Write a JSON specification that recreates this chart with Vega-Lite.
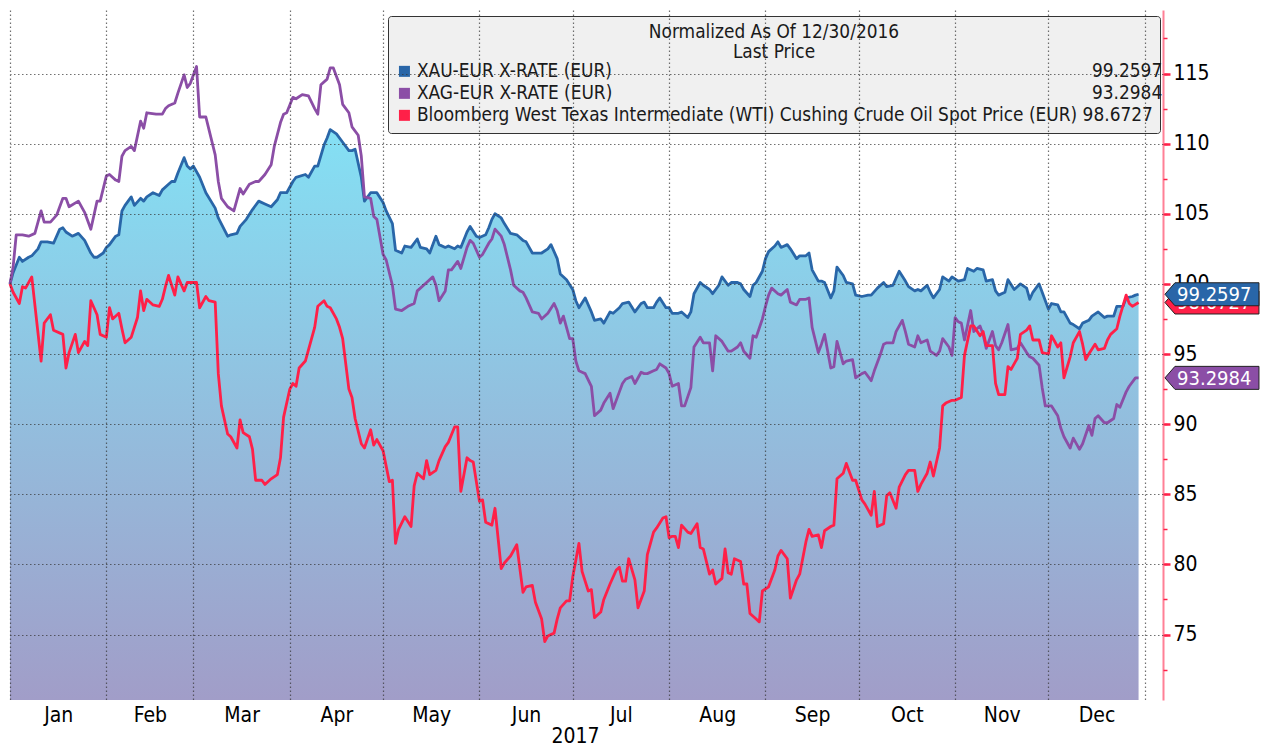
{
  "$schema": "https://vega.github.io/schema/vega-lite/v6.json",
  "width": 1153,
  "height": 690,
  "autosize": {"type": "none"},
  "padding": {"left": 10, "top": 10, "right": 106, "bottom": 46},
  "background": "#ffffff",
  "config": {
    "view": {"stroke": null},
    "font": "DejaVu Sans Condensed",
    "axis": {"labelFont": "DejaVu Sans Condensed", "titleFont": "DejaVu Sans Condensed"},
    "legend": {"labelFont": "DejaVu Sans Condensed", "titleFont": "DejaVu Sans Condensed"}
  },
  "datasets": {
    "prices": [
      {"series":"XAU","date":"2017-01-01","value":100},{"series":"XAU","date":"2017-01-02","value":100.8},{"series":"XAU","date":"2017-01-04","value":101.9},{"series":"XAU","date":"2017-01-05","value":101.6},{"series":"XAU","date":"2017-01-07","value":101.9},{"series":"XAU","date":"2017-01-08","value":102.0},{"series":"XAU","date":"2017-01-10","value":102.5},{"series":"XAU","date":"2017-01-11","value":103.0},{"series":"XAU","date":"2017-01-13","value":103.0},{"series":"XAU","date":"2017-01-15","value":102.9},{"series":"XAU","date":"2017-01-17","value":103.9},{"series":"XAU","date":"2017-01-18","value":104.0},{"series":"XAU","date":"2017-01-19","value":103.7},{"series":"XAU","date":"2017-01-21","value":103.4},{"series":"XAU","date":"2017-01-23","value":103.6},{"series":"XAU","date":"2017-01-25","value":103.1},{"series":"XAU","date":"2017-01-27","value":102.2},{"series":"XAU","date":"2017-01-28","value":101.9},{"series":"XAU","date":"2017-01-29","value":101.9},{"series":"XAU","date":"2017-01-31","value":102.2},
      {"series":"XAU","date":"2017-02-01","value":102.6},{"series":"XAU","date":"2017-02-02","value":102.8},{"series":"XAU","date":"2017-02-04","value":103.4},{"series":"XAU","date":"2017-02-05","value":103.5},{"series":"XAU","date":"2017-02-06","value":105.2},{"series":"XAU","date":"2017-02-07","value":105.6},{"series":"XAU","date":"2017-02-09","value":106.2},{"series":"XAU","date":"2017-02-10","value":105.6},{"series":"XAU","date":"2017-02-12","value":106.1},{"series":"XAU","date":"2017-02-13","value":105.9},{"series":"XAU","date":"2017-02-14","value":106.2},{"series":"XAU","date":"2017-02-16","value":106.5},{"series":"XAU","date":"2017-02-18","value":106.3},{"series":"XAU","date":"2017-02-19","value":106.7},{"series":"XAU","date":"2017-02-21","value":107.1},{"series":"XAU","date":"2017-02-22","value":107.3},{"series":"XAU","date":"2017-02-23","value":107.3},{"series":"XAU","date":"2017-02-24","value":107.9},{"series":"XAU","date":"2017-02-26","value":109.0},{"series":"XAU","date":"2017-02-27","value":108.4},{"series":"XAU","date":"2017-02-28","value":108.2},
      {"series":"XAU","date":"2017-03-01","value":108.4},{"series":"XAU","date":"2017-03-03","value":107.6},{"series":"XAU","date":"2017-03-05","value":106.5},{"series":"XAU","date":"2017-03-08","value":105.4},{"series":"XAU","date":"2017-03-09","value":104.7},{"series":"XAU","date":"2017-03-12","value":103.4},{"series":"XAU","date":"2017-03-13","value":103.5},{"series":"XAU","date":"2017-03-15","value":103.6},{"series":"XAU","date":"2017-03-16","value":104.1},{"series":"XAU","date":"2017-03-18","value":104.6},{"series":"XAU","date":"2017-03-20","value":105.3},{"series":"XAU","date":"2017-03-22","value":105.9},{"series":"XAU","date":"2017-03-24","value":105.7},{"series":"XAU","date":"2017-03-26","value":105.5},{"series":"XAU","date":"2017-03-28","value":106.0},{"series":"XAU","date":"2017-03-29","value":106.5},{"series":"XAU","date":"2017-03-31","value":106.5},
      {"series":"XAU","date":"2017-04-02","value":107.3},{"series":"XAU","date":"2017-04-03","value":107.6},{"series":"XAU","date":"2017-04-06","value":107.8},{"series":"XAU","date":"2017-04-07","value":107.6},{"series":"XAU","date":"2017-04-09","value":108.4},{"series":"XAU","date":"2017-04-10","value":108.4},{"series":"XAU","date":"2017-04-12","value":109.9},{"series":"XAU","date":"2017-04-13","value":110.4},{"series":"XAU","date":"2017-04-14","value":111.0},{"series":"XAU","date":"2017-04-16","value":110.7},{"series":"XAU","date":"2017-04-18","value":110.1},{"series":"XAU","date":"2017-04-20","value":109.5},{"series":"XAU","date":"2017-04-21","value":109.5},{"series":"XAU","date":"2017-04-22","value":109.6},{"series":"XAU","date":"2017-04-24","value":107.6},{"series":"XAU","date":"2017-04-25","value":105.9},{"series":"XAU","date":"2017-04-27","value":106.5},{"series":"XAU","date":"2017-04-29","value":106.5},
      {"series":"XAU","date":"2017-05-01","value":105.8},{"series":"XAU","date":"2017-05-02","value":105.2},{"series":"XAU","date":"2017-05-04","value":104.3},{"series":"XAU","date":"2017-05-05","value":102.4},{"series":"XAU","date":"2017-05-07","value":102.2},{"series":"XAU","date":"2017-05-08","value":102.7},{"series":"XAU","date":"2017-05-10","value":102.6},{"series":"XAU","date":"2017-05-12","value":103.2},{"series":"XAU","date":"2017-05-13","value":102.6},{"series":"XAU","date":"2017-05-15","value":102.5},{"series":"XAU","date":"2017-05-16","value":102.2},{"series":"XAU","date":"2017-05-18","value":103.4},{"series":"XAU","date":"2017-05-19","value":102.8},{"series":"XAU","date":"2017-05-21","value":102.6},{"series":"XAU","date":"2017-05-22","value":102.7},{"series":"XAU","date":"2017-05-24","value":102.5},{"series":"XAU","date":"2017-05-25","value":102.7},{"series":"XAU","date":"2017-05-26","value":102.6},{"series":"XAU","date":"2017-05-28","value":103.7},{"series":"XAU","date":"2017-05-29","value":104.1},{"series":"XAU","date":"2017-05-31","value":103.4},
      {"series":"XAU","date":"2017-06-01","value":103.3},{"series":"XAU","date":"2017-06-03","value":103.5},{"series":"XAU","date":"2017-06-04","value":104.0},{"series":"XAU","date":"2017-06-05","value":104.6},{"series":"XAU","date":"2017-06-06","value":105.0},{"series":"XAU","date":"2017-06-08","value":104.7},{"series":"XAU","date":"2017-06-09","value":104.3},{"series":"XAU","date":"2017-06-11","value":103.6},{"series":"XAU","date":"2017-06-13","value":103.5},{"series":"XAU","date":"2017-06-15","value":103.1},{"series":"XAU","date":"2017-06-16","value":103.0},{"series":"XAU","date":"2017-06-18","value":102.2},{"series":"XAU","date":"2017-06-20","value":102.2},{"series":"XAU","date":"2017-06-21","value":102.2},{"series":"XAU","date":"2017-06-23","value":102.5},{"series":"XAU","date":"2017-06-24","value":102.8},{"series":"XAU","date":"2017-06-26","value":101.8},{"series":"XAU","date":"2017-06-27","value":100.7},{"series":"XAU","date":"2017-06-29","value":100.3},
      {"series":"XAU","date":"2017-07-01","value":99.6},{"series":"XAU","date":"2017-07-02","value":98.8},{"series":"XAU","date":"2017-07-03","value":98.3},{"series":"XAU","date":"2017-07-05","value":99.0},{"series":"XAU","date":"2017-07-07","value":98.0},{"series":"XAU","date":"2017-07-08","value":97.4},{"series":"XAU","date":"2017-07-10","value":97.5},{"series":"XAU","date":"2017-07-11","value":97.2},{"series":"XAU","date":"2017-07-13","value":98.0},{"series":"XAU","date":"2017-07-14","value":97.9},{"series":"XAU","date":"2017-07-16","value":98.3},{"series":"XAU","date":"2017-07-17","value":98.6},{"series":"XAU","date":"2017-07-19","value":98.7},{"series":"XAU","date":"2017-07-21","value":98.0},{"series":"XAU","date":"2017-07-23","value":98.6},{"series":"XAU","date":"2017-07-24","value":98.7},{"series":"XAU","date":"2017-07-25","value":98.3},{"series":"XAU","date":"2017-07-27","value":98.3},{"series":"XAU","date":"2017-07-28","value":98.7},{"series":"XAU","date":"2017-07-29","value":99.0},{"series":"XAU","date":"2017-07-31","value":98.3},
      {"series":"XAU","date":"2017-08-01","value":98.3},{"series":"XAU","date":"2017-08-02","value":97.9},{"series":"XAU","date":"2017-08-04","value":97.9},{"series":"XAU","date":"2017-08-05","value":98.0},{"series":"XAU","date":"2017-08-07","value":97.6},{"series":"XAU","date":"2017-08-08","value":98.0},{"series":"XAU","date":"2017-08-09","value":99.3},{"series":"XAU","date":"2017-08-11","value":100.1},{"series":"XAU","date":"2017-08-12","value":99.9},{"series":"XAU","date":"2017-08-14","value":99.6},{"series":"XAU","date":"2017-08-15","value":99.3},{"series":"XAU","date":"2017-08-17","value":99.9},{"series":"XAU","date":"2017-08-18","value":100.5},{"series":"XAU","date":"2017-08-20","value":99.9},{"series":"XAU","date":"2017-08-21","value":100.1},{"series":"XAU","date":"2017-08-23","value":100.1},{"series":"XAU","date":"2017-08-24","value":100.0},{"series":"XAU","date":"2017-08-25","value":99.6},{"series":"XAU","date":"2017-08-27","value":99.1},{"series":"XAU","date":"2017-08-28","value":99.9},{"series":"XAU","date":"2017-08-29","value":100.1},{"series":"XAU","date":"2017-08-31","value":100.9},
      {"series":"XAU","date":"2017-09-01","value":101.8},{"series":"XAU","date":"2017-09-02","value":102.3},{"series":"XAU","date":"2017-09-04","value":102.7},{"series":"XAU","date":"2017-09-05","value":103.0},{"series":"XAU","date":"2017-09-06","value":102.6},{"series":"XAU","date":"2017-09-08","value":102.8},{"series":"XAU","date":"2017-09-09","value":102.5},{"series":"XAU","date":"2017-09-11","value":101.8},{"series":"XAU","date":"2017-09-12","value":102.0},{"series":"XAU","date":"2017-09-14","value":102.0},{"series":"XAU","date":"2017-09-15","value":102.2},{"series":"XAU","date":"2017-09-16","value":101.0},{"series":"XAU","date":"2017-09-18","value":100.2},{"series":"XAU","date":"2017-09-19","value":100.2},{"series":"XAU","date":"2017-09-20","value":100.1},{"series":"XAU","date":"2017-09-22","value":99.0},{"series":"XAU","date":"2017-09-23","value":99.5},{"series":"XAU","date":"2017-09-24","value":101.2},{"series":"XAU","date":"2017-09-26","value":100.6},{"series":"XAU","date":"2017-09-27","value":100.1},{"series":"XAU","date":"2017-09-29","value":100.0},{"series":"XAU","date":"2017-09-30","value":99.2},
      {"series":"XAU","date":"2017-10-02","value":99.1},{"series":"XAU","date":"2017-10-04","value":99.2},{"series":"XAU","date":"2017-10-05","value":99.2},{"series":"XAU","date":"2017-10-07","value":99.7},{"series":"XAU","date":"2017-10-09","value":100.1},{"series":"XAU","date":"2017-10-10","value":99.8},{"series":"XAU","date":"2017-10-12","value":99.9},{"series":"XAU","date":"2017-10-14","value":100.9},{"series":"XAU","date":"2017-10-16","value":100.2},{"series":"XAU","date":"2017-10-17","value":99.8},{"series":"XAU","date":"2017-10-19","value":99.5},{"series":"XAU","date":"2017-10-20","value":99.6},{"series":"XAU","date":"2017-10-21","value":99.5},{"series":"XAU","date":"2017-10-23","value":99.9},{"series":"XAU","date":"2017-10-24","value":99.4},{"series":"XAU","date":"2017-10-25","value":99.0},{"series":"XAU","date":"2017-10-27","value":99.6},{"series":"XAU","date":"2017-10-28","value":100.5},{"series":"XAU","date":"2017-10-30","value":100.2},{"series":"XAU","date":"2017-10-31","value":100.5},
      {"series":"XAU","date":"2017-11-02","value":100.2},{"series":"XAU","date":"2017-11-04","value":100.3},{"series":"XAU","date":"2017-11-05","value":101.1},{"series":"XAU","date":"2017-11-07","value":100.9},{"series":"XAU","date":"2017-11-08","value":101.1},{"series":"XAU","date":"2017-11-10","value":101.0},{"series":"XAU","date":"2017-11-11","value":100.2},{"series":"XAU","date":"2017-11-13","value":100.3},{"series":"XAU","date":"2017-11-14","value":99.5},{"series":"XAU","date":"2017-11-15","value":99.2},{"series":"XAU","date":"2017-11-17","value":99.4},{"series":"XAU","date":"2017-11-18","value":100.3},{"series":"XAU","date":"2017-11-20","value":99.6},{"series":"XAU","date":"2017-11-21","value":99.8},{"series":"XAU","date":"2017-11-22","value":100.0},{"series":"XAU","date":"2017-11-24","value":99.7},{"series":"XAU","date":"2017-11-25","value":98.9},{"series":"XAU","date":"2017-11-26","value":99.4},{"series":"XAU","date":"2017-11-28","value":100.0},{"series":"XAU","date":"2017-11-29","value":99.4},
      {"series":"XAU","date":"2017-12-01","value":98.2},{"series":"XAU","date":"2017-12-02","value":98.6},{"series":"XAU","date":"2017-12-04","value":98.5},{"series":"XAU","date":"2017-12-05","value":98.0},{"series":"XAU","date":"2017-12-06","value":98.0},{"series":"XAU","date":"2017-12-08","value":97.2},{"series":"XAU","date":"2017-12-09","value":97.1},{"series":"XAU","date":"2017-12-11","value":96.8},{"series":"XAU","date":"2017-12-12","value":97.2},{"series":"XAU","date":"2017-12-14","value":97.4},{"series":"XAU","date":"2017-12-15","value":97.7},{"series":"XAU","date":"2017-12-17","value":98.0},{"series":"XAU","date":"2017-12-19","value":97.6},{"series":"XAU","date":"2017-12-20","value":97.7},{"series":"XAU","date":"2017-12-22","value":97.7},{"series":"XAU","date":"2017-12-23","value":98.4},{"series":"XAU","date":"2017-12-25","value":98.4},{"series":"XAU","date":"2017-12-26","value":99.0},{"series":"XAU","date":"2017-12-28","value":99.1},{"series":"XAU","date":"2017-12-29","value":99.2},{"series":"XAU","date":"2017-12-30","value":99.2597},

      {"series":"XAG","date":"2017-01-01","value":100},{"series":"XAG","date":"2017-01-02","value":101.2},{"series":"XAG","date":"2017-01-03","value":103.5},{"series":"XAG","date":"2017-01-05","value":103.5},{"series":"XAG","date":"2017-01-07","value":103.4},{"series":"XAG","date":"2017-01-09","value":103.6},{"series":"XAG","date":"2017-01-11","value":105.2},{"series":"XAG","date":"2017-01-12","value":104.4},{"series":"XAG","date":"2017-01-14","value":104.4},{"series":"XAG","date":"2017-01-16","value":104.9},{"series":"XAG","date":"2017-01-18","value":106.1},{"series":"XAG","date":"2017-01-19","value":106.1},{"series":"XAG","date":"2017-01-20","value":105.5},{"series":"XAG","date":"2017-01-23","value":105.9},{"series":"XAG","date":"2017-01-25","value":105.1},{"series":"XAG","date":"2017-01-26","value":104.5},{"series":"XAG","date":"2017-01-27","value":103.9},{"series":"XAG","date":"2017-01-29","value":105.9},{"series":"XAG","date":"2017-01-30","value":105.9},
      {"series":"XAG","date":"2017-02-01","value":107.7},{"series":"XAG","date":"2017-02-02","value":107.8},{"series":"XAG","date":"2017-02-04","value":107.4},{"series":"XAG","date":"2017-02-05","value":107.3},{"series":"XAG","date":"2017-02-06","value":109.1},{"series":"XAG","date":"2017-02-07","value":109.5},{"series":"XAG","date":"2017-02-09","value":109.8},{"series":"XAG","date":"2017-02-10","value":109.5},{"series":"XAG","date":"2017-02-12","value":111.6},{"series":"XAG","date":"2017-02-13","value":111.1},{"series":"XAG","date":"2017-02-14","value":112.2},{"series":"XAG","date":"2017-02-17","value":112.1},{"series":"XAG","date":"2017-02-19","value":112.1},{"series":"XAG","date":"2017-02-20","value":112.5},{"series":"XAG","date":"2017-02-21","value":112.7},{"series":"XAG","date":"2017-02-23","value":112.9},{"series":"XAG","date":"2017-02-24","value":113.6},{"series":"XAG","date":"2017-02-26","value":114.9},{"series":"XAG","date":"2017-02-27","value":114.0},{"series":"XAG","date":"2017-02-28","value":114.3},
      {"series":"XAG","date":"2017-03-02","value":115.5},{"series":"XAG","date":"2017-03-03","value":111.9},{"series":"XAG","date":"2017-03-05","value":111.9},{"series":"XAG","date":"2017-03-06","value":111.0},{"series":"XAG","date":"2017-03-08","value":109.2},{"series":"XAG","date":"2017-03-09","value":107.3},{"series":"XAG","date":"2017-03-10","value":106.1},{"series":"XAG","date":"2017-03-12","value":105.5},{"series":"XAG","date":"2017-03-14","value":105.2},{"series":"XAG","date":"2017-03-16","value":106.8},{"series":"XAG","date":"2017-03-17","value":106.4},{"series":"XAG","date":"2017-03-19","value":107.1},{"series":"XAG","date":"2017-03-21","value":107.3},{"series":"XAG","date":"2017-03-22","value":107.3},{"series":"XAG","date":"2017-03-24","value":107.8},{"series":"XAG","date":"2017-03-26","value":108.5},{"series":"XAG","date":"2017-03-27","value":109.8},{"series":"XAG","date":"2017-03-29","value":111.5},{"series":"XAG","date":"2017-03-30","value":112.1},{"series":"XAG","date":"2017-03-31","value":112.2},
      {"series":"XAG","date":"2017-04-02","value":113.3},{"series":"XAG","date":"2017-04-03","value":113.2},{"series":"XAG","date":"2017-04-05","value":113.5},{"series":"XAG","date":"2017-04-07","value":113.4},{"series":"XAG","date":"2017-04-09","value":112.5},{"series":"XAG","date":"2017-04-10","value":112.1},{"series":"XAG","date":"2017-04-11","value":114.2},{"series":"XAG","date":"2017-04-13","value":114.6},{"series":"XAG","date":"2017-04-14","value":115.4},{"series":"XAG","date":"2017-04-15","value":115.4},{"series":"XAG","date":"2017-04-17","value":114.2},{"series":"XAG","date":"2017-04-18","value":112.8},{"series":"XAG","date":"2017-04-20","value":112.2},{"series":"XAG","date":"2017-04-21","value":111.2},{"series":"XAG","date":"2017-04-23","value":110.6},{"series":"XAG","date":"2017-04-24","value":109.1},{"series":"XAG","date":"2017-04-25","value":106.2},{"series":"XAG","date":"2017-04-27","value":106.1},{"series":"XAG","date":"2017-04-28","value":104.8},{"series":"XAG","date":"2017-04-29","value":104.6},
      {"series":"XAG","date":"2017-05-01","value":102.1},{"series":"XAG","date":"2017-05-02","value":101.7},{"series":"XAG","date":"2017-05-04","value":99.9},{"series":"XAG","date":"2017-05-05","value":98.2},{"series":"XAG","date":"2017-05-07","value":98.1},{"series":"XAG","date":"2017-05-09","value":98.4},{"series":"XAG","date":"2017-05-11","value":98.6},{"series":"XAG","date":"2017-05-12","value":99.5},{"series":"XAG","date":"2017-05-13","value":99.7},{"series":"XAG","date":"2017-05-15","value":100.1},{"series":"XAG","date":"2017-05-17","value":100.5},{"series":"XAG","date":"2017-05-18","value":99.9},{"series":"XAG","date":"2017-05-19","value":98.8},{"series":"XAG","date":"2017-05-21","value":99.5},{"series":"XAG","date":"2017-05-22","value":101.0},{"series":"XAG","date":"2017-05-23","value":101.0},{"series":"XAG","date":"2017-05-25","value":101.6},{"series":"XAG","date":"2017-05-26","value":101.1},{"series":"XAG","date":"2017-05-28","value":102.6},{"series":"XAG","date":"2017-05-29","value":103.1},{"series":"XAG","date":"2017-05-30","value":102.9},
      {"series":"XAG","date":"2017-06-01","value":101.9},{"series":"XAG","date":"2017-06-02","value":102.1},{"series":"XAG","date":"2017-06-04","value":102.9},{"series":"XAG","date":"2017-06-05","value":103.2},{"series":"XAG","date":"2017-06-06","value":103.9},{"series":"XAG","date":"2017-06-08","value":103.4},{"series":"XAG","date":"2017-06-09","value":102.8},{"series":"XAG","date":"2017-06-11","value":101.0},{"series":"XAG","date":"2017-06-12","value":99.9},{"series":"XAG","date":"2017-06-14","value":99.5},{"series":"XAG","date":"2017-06-15","value":99.4},{"series":"XAG","date":"2017-06-16","value":99.0},{"series":"XAG","date":"2017-06-18","value":98.0},{"series":"XAG","date":"2017-06-20","value":97.9},{"series":"XAG","date":"2017-06-21","value":97.5},{"series":"XAG","date":"2017-06-23","value":97.9},{"series":"XAG","date":"2017-06-25","value":98.6},{"series":"XAG","date":"2017-06-26","value":98.1},{"series":"XAG","date":"2017-06-27","value":97.2},{"series":"XAG","date":"2017-06-28","value":97.7},{"series":"XAG","date":"2017-06-30","value":96.1},
      {"series":"XAG","date":"2017-07-01","value":96.1},{"series":"XAG","date":"2017-07-02","value":94.5},{"series":"XAG","date":"2017-07-03","value":93.8},{"series":"XAG","date":"2017-07-04","value":93.7},{"series":"XAG","date":"2017-07-05","value":93.6},{"series":"XAG","date":"2017-07-07","value":92.7},{"series":"XAG","date":"2017-07-08","value":90.6},{"series":"XAG","date":"2017-07-10","value":91.0},{"series":"XAG","date":"2017-07-11","value":91.5},{"series":"XAG","date":"2017-07-13","value":92.2},{"series":"XAG","date":"2017-07-14","value":91.1},{"series":"XAG","date":"2017-07-16","value":92.3},{"series":"XAG","date":"2017-07-17","value":92.9},{"series":"XAG","date":"2017-07-18","value":93.2},{"series":"XAG","date":"2017-07-20","value":93.4},{"series":"XAG","date":"2017-07-21","value":92.9},{"series":"XAG","date":"2017-07-23","value":93.7},{"series":"XAG","date":"2017-07-24","value":93.6},{"series":"XAG","date":"2017-07-25","value":93.6},{"series":"XAG","date":"2017-07-27","value":93.8},{"series":"XAG","date":"2017-07-28","value":93.9},{"series":"XAG","date":"2017-07-29","value":94.3},{"series":"XAG","date":"2017-07-31","value":94.0},
      {"series":"XAG","date":"2017-08-01","value":93.6},{"series":"XAG","date":"2017-08-02","value":92.7},{"series":"XAG","date":"2017-08-04","value":92.9},{"series":"XAG","date":"2017-08-05","value":91.3},{"series":"XAG","date":"2017-08-06","value":91.3},{"series":"XAG","date":"2017-08-08","value":92.6},{"series":"XAG","date":"2017-08-09","value":95.5},{"series":"XAG","date":"2017-08-11","value":96.2},{"series":"XAG","date":"2017-08-12","value":95.8},{"series":"XAG","date":"2017-08-14","value":95.8},{"series":"XAG","date":"2017-08-15","value":93.8},{"series":"XAG","date":"2017-08-16","value":96.3},{"series":"XAG","date":"2017-08-18","value":95.9},{"series":"XAG","date":"2017-08-20","value":95.2},{"series":"XAG","date":"2017-08-21","value":95.2},{"series":"XAG","date":"2017-08-23","value":95.5},{"series":"XAG","date":"2017-08-24","value":95.8},{"series":"XAG","date":"2017-08-25","value":95.2},{"series":"XAG","date":"2017-08-27","value":94.7},{"series":"XAG","date":"2017-08-28","value":96.3},{"series":"XAG","date":"2017-08-29","value":96.2},{"series":"XAG","date":"2017-08-31","value":97.5},
      {"series":"XAG","date":"2017-09-01","value":98.4},{"series":"XAG","date":"2017-09-02","value":99.2},{"series":"XAG","date":"2017-09-03","value":99.7},{"series":"XAG","date":"2017-09-05","value":99.3},{"series":"XAG","date":"2017-09-06","value":99.2},{"series":"XAG","date":"2017-09-08","value":99.6},{"series":"XAG","date":"2017-09-09","value":98.7},{"series":"XAG","date":"2017-09-11","value":98.5},{"series":"XAG","date":"2017-09-12","value":98.9},{"series":"XAG","date":"2017-09-14","value":98.9},{"series":"XAG","date":"2017-09-15","value":99.0},{"series":"XAG","date":"2017-09-16","value":96.9},{"series":"XAG","date":"2017-09-18","value":95.1},{"series":"XAG","date":"2017-09-19","value":95.7},{"series":"XAG","date":"2017-09-20","value":96.4},{"series":"XAG","date":"2017-09-22","value":94.0},{"series":"XAG","date":"2017-09-23","value":94.1},{"series":"XAG","date":"2017-09-24","value":95.9},{"series":"XAG","date":"2017-09-26","value":94.3},{"series":"XAG","date":"2017-09-27","value":94.5},{"series":"XAG","date":"2017-09-29","value":94.6},{"series":"XAG","date":"2017-09-30","value":93.3},
      {"series":"XAG","date":"2017-10-02","value":93.6},{"series":"XAG","date":"2017-10-03","value":93.7},{"series":"XAG","date":"2017-10-05","value":93.1},{"series":"XAG","date":"2017-10-06","value":93.8},{"series":"XAG","date":"2017-10-08","value":95.0},{"series":"XAG","date":"2017-10-09","value":95.7},{"series":"XAG","date":"2017-10-10","value":95.8},{"series":"XAG","date":"2017-10-12","value":95.8},{"series":"XAG","date":"2017-10-13","value":96.6},{"series":"XAG","date":"2017-10-15","value":97.4},{"series":"XAG","date":"2017-10-16","value":96.6},{"series":"XAG","date":"2017-10-17","value":95.7},{"series":"XAG","date":"2017-10-19","value":95.5},{"series":"XAG","date":"2017-10-20","value":96.3},{"series":"XAG","date":"2017-10-21","value":95.8},{"series":"XAG","date":"2017-10-23","value":96.0},{"series":"XAG","date":"2017-10-24","value":95.2},{"series":"XAG","date":"2017-10-26","value":94.9},{"series":"XAG","date":"2017-10-27","value":95.2},{"series":"XAG","date":"2017-10-28","value":96.1},{"series":"XAG","date":"2017-10-30","value":95.5},{"series":"XAG","date":"2017-10-31","value":94.9},
      {"series":"XAG","date":"2017-11-01","value":97.6},{"series":"XAG","date":"2017-11-02","value":97.3},{"series":"XAG","date":"2017-11-03","value":97.2},{"series":"XAG","date":"2017-11-04","value":96.0},{"series":"XAG","date":"2017-11-06","value":98.1},{"series":"XAG","date":"2017-11-07","value":96.6},{"series":"XAG","date":"2017-11-09","value":97.0},{"series":"XAG","date":"2017-11-10","value":96.4},{"series":"XAG","date":"2017-11-11","value":95.4},{"series":"XAG","date":"2017-11-13","value":96.6},{"series":"XAG","date":"2017-11-14","value":95.6},{"series":"XAG","date":"2017-11-15","value":95.3},{"series":"XAG","date":"2017-11-16","value":95.8},{"series":"XAG","date":"2017-11-18","value":97.1},{"series":"XAG","date":"2017-11-19","value":95.3},{"series":"XAG","date":"2017-11-21","value":95.4},{"series":"XAG","date":"2017-11-22","value":95.8},{"series":"XAG","date":"2017-11-24","value":95.1},{"series":"XAG","date":"2017-11-25","value":94.8},{"series":"XAG","date":"2017-11-26","value":94.7},{"series":"XAG","date":"2017-11-28","value":94.2},{"series":"XAG","date":"2017-11-29","value":92.6},{"series":"XAG","date":"2017-11-30","value":91.3},
      {"series":"XAG","date":"2017-12-02","value":91.3},{"series":"XAG","date":"2017-12-04","value":90.6},{"series":"XAG","date":"2017-12-05","value":89.7},{"series":"XAG","date":"2017-12-06","value":89.1},{"series":"XAG","date":"2017-12-08","value":88.3},{"series":"XAG","date":"2017-12-09","value":89.0},{"series":"XAG","date":"2017-12-11","value":88.2},{"series":"XAG","date":"2017-12-12","value":88.6},{"series":"XAG","date":"2017-12-14","value":89.9},{"series":"XAG","date":"2017-12-15","value":89.2},{"series":"XAG","date":"2017-12-16","value":90.4},{"series":"XAG","date":"2017-12-17","value":90.6},{"series":"XAG","date":"2017-12-19","value":90.1},{"series":"XAG","date":"2017-12-20","value":90.1},{"series":"XAG","date":"2017-12-22","value":90.4},{"series":"XAG","date":"2017-12-23","value":91.4},{"series":"XAG","date":"2017-12-24","value":91.2},{"series":"XAG","date":"2017-12-26","value":92.3},{"series":"XAG","date":"2017-12-27","value":92.7},{"series":"XAG","date":"2017-12-29","value":93.3},{"series":"XAG","date":"2017-12-30","value":93.2984},

      {"series":"WTI","date":"2017-01-01","value":100},{"series":"WTI","date":"2017-01-02","value":99.4},{"series":"WTI","date":"2017-01-04","value":98.6},{"series":"WTI","date":"2017-01-05","value":99.8},{"series":"WTI","date":"2017-01-06","value":99.7},{"series":"WTI","date":"2017-01-08","value":100.5},{"series":"WTI","date":"2017-01-09","value":98.5},{"series":"WTI","date":"2017-01-10","value":96.5},{"series":"WTI","date":"2017-01-11","value":94.5},{"series":"WTI","date":"2017-01-12","value":97.2},{"series":"WTI","date":"2017-01-14","value":97.8},{"series":"WTI","date":"2017-01-15","value":96.7},{"series":"WTI","date":"2017-01-18","value":96.4},{"series":"WTI","date":"2017-01-19","value":94.0},{"series":"WTI","date":"2017-01-20","value":95.1},{"series":"WTI","date":"2017-01-22","value":96.4},{"series":"WTI","date":"2017-01-23","value":95.1},{"series":"WTI","date":"2017-01-25","value":95.9},{"series":"WTI","date":"2017-01-26","value":95.6},{"series":"WTI","date":"2017-01-27","value":98.8},{"series":"WTI","date":"2017-01-29","value":97.8},{"series":"WTI","date":"2017-01-30","value":96.4},
      {"series":"WTI","date":"2017-02-01","value":96.2},{"series":"WTI","date":"2017-02-02","value":98.3},{"series":"WTI","date":"2017-02-03","value":97.5},{"series":"WTI","date":"2017-02-05","value":97.9},{"series":"WTI","date":"2017-02-06","value":96.8},{"series":"WTI","date":"2017-02-07","value":95.8},{"series":"WTI","date":"2017-02-09","value":96.2},{"series":"WTI","date":"2017-02-11","value":97.6},{"series":"WTI","date":"2017-02-12","value":99.5},{"series":"WTI","date":"2017-02-13","value":98.1},{"series":"WTI","date":"2017-02-14","value":98.9},{"series":"WTI","date":"2017-02-16","value":98.5},{"series":"WTI","date":"2017-02-18","value":98.4},{"series":"WTI","date":"2017-02-19","value":98.9},{"series":"WTI","date":"2017-02-20","value":99.8},{"series":"WTI","date":"2017-02-21","value":100.6},{"series":"WTI","date":"2017-02-23","value":99.2},{"series":"WTI","date":"2017-02-24","value":100.5},{"series":"WTI","date":"2017-02-26","value":99.5},{"series":"WTI","date":"2017-02-27","value":100.1},
      {"series":"WTI","date":"2017-03-01","value":100.1},{"series":"WTI","date":"2017-03-02","value":100.1},{"series":"WTI","date":"2017-03-03","value":98.3},{"series":"WTI","date":"2017-03-05","value":99.1},{"series":"WTI","date":"2017-03-06","value":98.8},{"series":"WTI","date":"2017-03-08","value":98.7},{"series":"WTI","date":"2017-03-09","value":93.6},{"series":"WTI","date":"2017-03-10","value":91.3},{"series":"WTI","date":"2017-03-12","value":89.3},{"series":"WTI","date":"2017-03-13","value":89.1},{"series":"WTI","date":"2017-03-15","value":88.3},{"series":"WTI","date":"2017-03-16","value":90.3},{"series":"WTI","date":"2017-03-17","value":89.4},{"series":"WTI","date":"2017-03-19","value":89.1},{"series":"WTI","date":"2017-03-20","value":88.2},{"series":"WTI","date":"2017-03-21","value":86.0},{"series":"WTI","date":"2017-03-23","value":86.0},{"series":"WTI","date":"2017-03-24","value":85.7},{"series":"WTI","date":"2017-03-26","value":86.1},{"series":"WTI","date":"2017-03-28","value":86.4},{"series":"WTI","date":"2017-03-29","value":87.6},{"series":"WTI","date":"2017-03-30","value":90.5},
      {"series":"WTI","date":"2017-04-01","value":92.5},{"series":"WTI","date":"2017-04-02","value":92.9},{"series":"WTI","date":"2017-04-03","value":92.7},{"series":"WTI","date":"2017-04-04","value":94.0},{"series":"WTI","date":"2017-04-06","value":94.5},{"series":"WTI","date":"2017-04-07","value":95.3},{"series":"WTI","date":"2017-04-09","value":96.9},{"series":"WTI","date":"2017-04-10","value":98.4},{"series":"WTI","date":"2017-04-12","value":98.8},{"series":"WTI","date":"2017-04-13","value":98.4},{"series":"WTI","date":"2017-04-14","value":98.3},{"series":"WTI","date":"2017-04-16","value":97.5},{"series":"WTI","date":"2017-04-17","value":96.9},{"series":"WTI","date":"2017-04-18","value":96.1},{"series":"WTI","date":"2017-04-20","value":92.5},{"series":"WTI","date":"2017-04-21","value":91.9},{"series":"WTI","date":"2017-04-22","value":90.4},{"series":"WTI","date":"2017-04-24","value":88.6},{"series":"WTI","date":"2017-04-25","value":88.3},{"series":"WTI","date":"2017-04-27","value":89.6},{"series":"WTI","date":"2017-04-28","value":88.5},{"series":"WTI","date":"2017-04-29","value":88.9},
      {"series":"WTI","date":"2017-05-01","value":88.1},{"series":"WTI","date":"2017-05-03","value":85.9},{"series":"WTI","date":"2017-05-04","value":86.0},{"series":"WTI","date":"2017-05-05","value":81.5},{"series":"WTI","date":"2017-05-06","value":82.5},{"series":"WTI","date":"2017-05-08","value":83.4},{"series":"WTI","date":"2017-05-10","value":82.7},{"series":"WTI","date":"2017-05-11","value":85.6},{"series":"WTI","date":"2017-05-12","value":86.5},{"series":"WTI","date":"2017-05-14","value":86.1},{"series":"WTI","date":"2017-05-15","value":87.4},{"series":"WTI","date":"2017-05-16","value":86.4},{"series":"WTI","date":"2017-05-18","value":86.7},{"series":"WTI","date":"2017-05-19","value":87.4},{"series":"WTI","date":"2017-05-21","value":88.4},{"series":"WTI","date":"2017-05-22","value":88.7},{"series":"WTI","date":"2017-05-24","value":89.8},{"series":"WTI","date":"2017-05-25","value":89.8},{"series":"WTI","date":"2017-05-26","value":85.2},{"series":"WTI","date":"2017-05-28","value":87.6},{"series":"WTI","date":"2017-05-29","value":87.4},{"series":"WTI","date":"2017-05-30","value":87.3},
      {"series":"WTI","date":"2017-06-01","value":84.5},{"series":"WTI","date":"2017-06-02","value":84.6},{"series":"WTI","date":"2017-06-03","value":83.0},{"series":"WTI","date":"2017-06-05","value":82.8},{"series":"WTI","date":"2017-06-06","value":84.0},{"series":"WTI","date":"2017-06-08","value":79.7},{"series":"WTI","date":"2017-06-09","value":80.1},{"series":"WTI","date":"2017-06-11","value":80.6},{"series":"WTI","date":"2017-06-13","value":81.4},{"series":"WTI","date":"2017-06-15","value":78.0},{"series":"WTI","date":"2017-06-16","value":78.4},{"series":"WTI","date":"2017-06-18","value":78.5},{"series":"WTI","date":"2017-06-19","value":77.3},{"series":"WTI","date":"2017-06-21","value":76.1},{"series":"WTI","date":"2017-06-22","value":74.5},{"series":"WTI","date":"2017-06-23","value":74.9},{"series":"WTI","date":"2017-06-25","value":75.1},{"series":"WTI","date":"2017-06-26","value":76.1},{"series":"WTI","date":"2017-06-27","value":76.9},{"series":"WTI","date":"2017-06-29","value":77.4},{"series":"WTI","date":"2017-06-30","value":77.4},
      {"series":"WTI","date":"2017-07-01","value":79.1},{"series":"WTI","date":"2017-07-03","value":81.5},{"series":"WTI","date":"2017-07-04","value":79.5},{"series":"WTI","date":"2017-07-06","value":78.1},{"series":"WTI","date":"2017-07-07","value":78.2},{"series":"WTI","date":"2017-07-08","value":76.2},{"series":"WTI","date":"2017-07-10","value":76.6},{"series":"WTI","date":"2017-07-11","value":77.5},{"series":"WTI","date":"2017-07-13","value":78.6},{"series":"WTI","date":"2017-07-15","value":79.6},{"series":"WTI","date":"2017-07-16","value":79.8},{"series":"WTI","date":"2017-07-17","value":78.8},{"series":"WTI","date":"2017-07-18","value":78.8},{"series":"WTI","date":"2017-07-19","value":80.4},{"series":"WTI","date":"2017-07-21","value":78.9},{"series":"WTI","date":"2017-07-22","value":76.9},{"series":"WTI","date":"2017-07-24","value":78.1},{"series":"WTI","date":"2017-07-25","value":80.7},{"series":"WTI","date":"2017-07-27","value":82.3},{"series":"WTI","date":"2017-07-28","value":82.6},{"series":"WTI","date":"2017-07-30","value":83.3},{"series":"WTI","date":"2017-07-31","value":83.4},
      {"series":"WTI","date":"2017-08-01","value":81.9},{"series":"WTI","date":"2017-08-02","value":82.0},{"series":"WTI","date":"2017-08-03","value":82.0},{"series":"WTI","date":"2017-08-04","value":81.2},{"series":"WTI","date":"2017-08-05","value":82.8},{"series":"WTI","date":"2017-08-07","value":82.3},{"series":"WTI","date":"2017-08-08","value":82.2},{"series":"WTI","date":"2017-08-10","value":82.9},{"series":"WTI","date":"2017-08-11","value":81.2},{"series":"WTI","date":"2017-08-12","value":81.1},{"series":"WTI","date":"2017-08-14","value":79.3},{"series":"WTI","date":"2017-08-15","value":79.6},{"series":"WTI","date":"2017-08-16","value":78.6},{"series":"WTI","date":"2017-08-18","value":79.0},{"series":"WTI","date":"2017-08-19","value":81.1},{"series":"WTI","date":"2017-08-20","value":79.4},{"series":"WTI","date":"2017-08-21","value":79.3},{"series":"WTI","date":"2017-08-22","value":80.4},{"series":"WTI","date":"2017-08-24","value":80.2},{"series":"WTI","date":"2017-08-25","value":78.6},{"series":"WTI","date":"2017-08-26","value":78.6},{"series":"WTI","date":"2017-08-27","value":76.5},{"series":"WTI","date":"2017-08-29","value":76.1},{"series":"WTI","date":"2017-08-30","value":75.9},{"series":"WTI","date":"2017-08-31","value":78.1},
      {"series":"WTI","date":"2017-09-02","value":78.4},{"series":"WTI","date":"2017-09-04","value":79.6},{"series":"WTI","date":"2017-09-05","value":80.6},{"series":"WTI","date":"2017-09-06","value":81.0},{"series":"WTI","date":"2017-09-08","value":80.4},{"series":"WTI","date":"2017-09-09","value":77.6},{"series":"WTI","date":"2017-09-11","value":78.9},{"series":"WTI","date":"2017-09-12","value":79.3},{"series":"WTI","date":"2017-09-14","value":81.6},{"series":"WTI","date":"2017-09-15","value":82.5},{"series":"WTI","date":"2017-09-16","value":82.0},{"series":"WTI","date":"2017-09-18","value":82.1},{"series":"WTI","date":"2017-09-19","value":81.2},{"series":"WTI","date":"2017-09-20","value":82.4},{"series":"WTI","date":"2017-09-22","value":82.7},{"series":"WTI","date":"2017-09-23","value":82.8},{"series":"WTI","date":"2017-09-24","value":86.1},{"series":"WTI","date":"2017-09-26","value":86.5},{"series":"WTI","date":"2017-09-27","value":87.2},{"series":"WTI","date":"2017-09-29","value":86.0},{"series":"WTI","date":"2017-09-30","value":86.0},
      {"series":"WTI","date":"2017-10-02","value":84.6},{"series":"WTI","date":"2017-10-03","value":84.3},{"series":"WTI","date":"2017-10-05","value":83.5},{"series":"WTI","date":"2017-10-06","value":85.2},{"series":"WTI","date":"2017-10-07","value":82.7},{"series":"WTI","date":"2017-10-09","value":82.9},{"series":"WTI","date":"2017-10-10","value":84.9},{"series":"WTI","date":"2017-10-11","value":85.1},{"series":"WTI","date":"2017-10-13","value":84.0},{"series":"WTI","date":"2017-10-14","value":85.5},{"series":"WTI","date":"2017-10-16","value":86.4},{"series":"WTI","date":"2017-10-17","value":86.7},{"series":"WTI","date":"2017-10-19","value":86.7},{"series":"WTI","date":"2017-10-20","value":85.2},{"series":"WTI","date":"2017-10-21","value":85.7},{"series":"WTI","date":"2017-10-23","value":86.5},{"series":"WTI","date":"2017-10-24","value":87.3},{"series":"WTI","date":"2017-10-25","value":86.3},{"series":"WTI","date":"2017-10-27","value":88.3},{"series":"WTI","date":"2017-10-28","value":91.3},{"series":"WTI","date":"2017-10-29","value":91.5},{"series":"WTI","date":"2017-10-31","value":91.7},
      {"series":"WTI","date":"2017-11-01","value":91.7},{"series":"WTI","date":"2017-11-03","value":91.9},{"series":"WTI","date":"2017-11-04","value":94.9},{"series":"WTI","date":"2017-11-06","value":97.0},{"series":"WTI","date":"2017-11-07","value":97.0},{"series":"WTI","date":"2017-11-09","value":96.3},{"series":"WTI","date":"2017-11-10","value":96.6},{"series":"WTI","date":"2017-11-11","value":95.6},{"series":"WTI","date":"2017-11-13","value":95.6},{"series":"WTI","date":"2017-11-14","value":92.9},{"series":"WTI","date":"2017-11-15","value":92.1},{"series":"WTI","date":"2017-11-17","value":92.1},{"series":"WTI","date":"2017-11-18","value":94.1},{"series":"WTI","date":"2017-11-19","value":93.9},{"series":"WTI","date":"2017-11-21","value":94.7},{"series":"WTI","date":"2017-11-22","value":96.4},{"series":"WTI","date":"2017-11-24","value":96.7},{"series":"WTI","date":"2017-11-25","value":97.0},{"series":"WTI","date":"2017-11-26","value":96.0},{"series":"WTI","date":"2017-11-28","value":96.0},{"series":"WTI","date":"2017-11-29","value":95.1},
      {"series":"WTI","date":"2017-12-01","value":95.0},{"series":"WTI","date":"2017-12-02","value":96.3},{"series":"WTI","date":"2017-12-04","value":95.5},{"series":"WTI","date":"2017-12-05","value":95.8},{"series":"WTI","date":"2017-12-06","value":93.3},{"series":"WTI","date":"2017-12-08","value":94.8},{"series":"WTI","date":"2017-12-09","value":95.8},{"series":"WTI","date":"2017-12-11","value":96.6},{"series":"WTI","date":"2017-12-12","value":95.7},{"series":"WTI","date":"2017-12-13","value":94.6},{"series":"WTI","date":"2017-12-14","value":95.0},{"series":"WTI","date":"2017-12-16","value":95.7},{"series":"WTI","date":"2017-12-17","value":95.3},{"series":"WTI","date":"2017-12-19","value":95.4},{"series":"WTI","date":"2017-12-20","value":96.0},{"series":"WTI","date":"2017-12-21","value":96.4},{"series":"WTI","date":"2017-12-23","value":96.8},{"series":"WTI","date":"2017-12-24","value":97.7},{"series":"WTI","date":"2017-12-26","value":99.2},{"series":"WTI","date":"2017-12-27","value":98.6},{"series":"WTI","date":"2017-12-28","value":98.4},{"series":"WTI","date":"2017-12-30","value":98.6727}
    ]
  },
  "data": {"name": "prices"},
  "resolve": {"axis": {"x": "independent", "y": "independent"}},
  "layer": [
    {
      "transform": [{"filter": "datum.series === 'XAU'"}],
      "mark": {"type": "area", "fill": {"gradient": "linear", "x1": 0, "y1": 0, "x2": 0, "y2": 1, "stops": [{"offset": 0, "color": "#84e0f4"}, {"offset": 1, "color": "#a19dc8"}]}},
      "encoding": {
        "x": {"field": "date", "type": "temporal",
          "scale": {"type": "utc", "domain": [{"year": 2017, "month": 1, "date": 1, "utc": true}, {"year": 2018, "month": 1, "date": 6, "hours": 20, "minutes": 38, "utc": true}]},
          "axis": {"orient": "bottom", "values": [
            {"year": 2017, "month": 1, "date": 1, "utc": true}, {"year": 2017, "month": 2, "date": 1, "utc": true}, {"year": 2017, "month": 3, "date": 1, "utc": true}, {"year": 2017, "month": 4, "date": 1, "utc": true}, {"year": 2017, "month": 5, "date": 1, "utc": true}, {"year": 2017, "month": 6, "date": 1, "utc": true}, {"year": 2017, "month": 7, "date": 1, "utc": true}, {"year": 2017, "month": 8, "date": 1, "utc": true}, {"year": 2017, "month": 9, "date": 1, "utc": true}, {"year": 2017, "month": 10, "date": 1, "utc": true}, {"year": 2017, "month": 11, "date": 1, "utc": true}, {"year": 2017, "month": 12, "date": 1, "utc": true}, {"year": 2018, "month": 1, "date": 1, "utc": true}],
            "grid": true, "gridDash": [1.5, 2.5], "gridColor": "#333333", "gridOpacity": 0.7, "gridWidth": 1.2,
            "labels": false, "ticks": false, "domain": false, "title": null, "zindex": 1}},
        "y": {"field": "value", "type": "quantitative",
          "scale": {"domain": [70.33, 119.528], "zero": false, "nice": false},
          "axis": {"orient": "right", "values": [72.5, 75, 77.5, 80, 82.5, 85, 87.5, 90, 92.5, 95, 97.5, 100, 102.5, 105, 107.5, 110, 112.5, 115, 117.5],
            "grid": true, "gridDash": [1.5, 2.5], "gridColor": "#333333", "gridWidth": 1.2,
            "gridOpacity": {"condition": {"test": "datum.value % 5 !== 0", "value": 0}, "value": 0.7},
            "labels": false, "ticks": true, "tickSize": 4, "tickWidth": 1.5, "tickColor": "#ff2048", "domain": false, "title": null, "zindex": 1}},
        "y2": {"datum": 70.33}
      }
    },
    {
      "mark": {"type": "line", "strokeWidth": 2.8, "strokeJoin": "round"},
      "encoding": {
        "x": {"field": "date", "type": "temporal",
          "axis": {"orient": "bottom", "values": [
            {"year": 2017, "month": 1, "date": 16, "hours": 12, "utc": true}, {"year": 2017, "month": 2, "date": 15, "utc": true}, {"year": 2017, "month": 3, "date": 16, "hours": 12, "utc": true}, {"year": 2017, "month": 4, "date": 16, "utc": true}, {"year": 2017, "month": 5, "date": 16, "hours": 12, "utc": true}, {"year": 2017, "month": 6, "date": 16, "utc": true}, {"year": 2017, "month": 7, "date": 16, "hours": 12, "utc": true}, {"year": 2017, "month": 8, "date": 16, "hours": 12, "utc": true}, {"year": 2017, "month": 9, "date": 16, "utc": true}, {"year": 2017, "month": 10, "date": 16, "hours": 12, "utc": true}, {"year": 2017, "month": 11, "date": 16, "utc": true}, {"year": 2017, "month": 12, "date": 16, "hours": 12, "utc": true}],
            "format": "%b", "grid": false, "ticks": false, "domain": false, "labelFontSize": 21, "labelColor": "#000000", "labelPadding": 4,
            "title": "2017", "titleFontSize": 21, "titleFontWeight": "normal", "titleColor": "#000000", "titlePadding": 0, "titleX": 565, "zindex": 0}},
        "y": {"field": "value", "type": "quantitative",
          "axis": {"orient": "right", "values": [75, 80, 85, 90, 95, 100, 105, 110, 115], "grid": false,
            "domainColor": "#ff8096", "domainWidth": 2, "tickColor": "#ff2048", "tickWidth": 2.5, "tickSize": 7,
            "labelFontSize": 21, "labelColor": "#000000", "labelPadding": 3, "labelOverlap": false, "labelBound": false, "title": null, "zindex": 0}},
        "color": {"field": "series", "type": "nominal",
          "scale": {"domain": ["XAU", "XAG", "WTI"], "range": ["#2966a8", "#8b4ea6", "#ff2048"]},
          "legend": {
            "orient": "none", "legendX": 378, "legendY": 6, "direction": "vertical",
            "title": ["Normalized As Of 12/30/2016", "Last Price"], "titleLimit": 2000,
            "titleFontSize": 18.9, "titleFontWeight": "normal", "titleColor": "#1a1a1a", "titleAlign": "center", "titleAnchor": "middle", "titleLineHeight": 20, "titlePadding": 0,
            "labelFontSize": 18.9, "labelColor": "#1a1a1a", "labelLimit": 2000, "labelOffset": 3,
            "labelExpr": "datum.value === 'XAU' ? 'XAU-EUR X-RATE (EUR)' : datum.value === 'XAG' ? 'XAG-EUR X-RATE (EUR)' : 'Bloomberg West Texas Intermediate (WTI) Cushing Crude Oil Spot Price (EUR) 98.6727'",
            "symbolType": "square", "symbolSize": 121, "symbolStrokeWidth": 0, "rowPadding": 2,
            "padding": 7, "fillColor": "#f0f0f0", "strokeColor": "#333333", "cornerRadius": 3,
            "encode": {"symbols": {"update": {"fill": {"scale": "color", "field": "value"}, "fillOpacity": {"value": 1}, "strokeWidth": {"value": 0}}}}
          }}
      }
    },
    {
      "transform": [
        {"window": [{"op": "row_number", "as": "rn"}], "sort": [{"field": "date", "order": "descending"}], "groupby": ["series"]},
        {"filter": "datum.rn === 1 && datum.series === 'WTI'"},
        {"calculate": "format(datum.value, '.4f')", "as": "label"}
      ],
      "layer": [
        {"mark": {"type": "point", "filled": true, "size": 400, "xOffset": 26.4, "shape": "M 0 0 L 1 -1.15 L 9.4 -1.15 L 9.4 1.15 L 1 1.15 Z", "fill": "#ff2048", "stroke": "#222222", "strokeWidth": 1, "opacity": 1},
         "encoding": {"x": {"field": "date", "type": "temporal", "axis": null}, "y": {"field": "value", "type": "quantitative", "axis": null}}},
        {"mark": {"type": "text", "align": "left", "baseline": "middle", "dx": 38.5, "dy": 1, "fontSize": 20, "fill": "#ffffff", "font": "DejaVu Sans Condensed"},
         "encoding": {"x": {"field": "date", "type": "temporal", "axis": null}, "y": {"field": "value", "type": "quantitative", "axis": null}, "text": {"field": "label"}}}
      ]
    },
    {
      "transform": [
        {"window": [{"op": "row_number", "as": "rn"}], "sort": [{"field": "date", "order": "descending"}], "groupby": ["series"]},
        {"filter": "datum.rn === 1 && datum.series !== 'WTI'"},
        {"calculate": "format(datum.value, '.4f')", "as": "label"}
      ],
      "layer": [
        {"mark": {"type": "point", "filled": true, "size": 400, "xOffset": 26.4, "stroke": "#222222", "strokeWidth": 1, "opacity": 1},
         "encoding": {
           "x": {"field": "date", "type": "temporal", "axis": null},
           "y": {"field": "value", "type": "quantitative", "axis": null},
           "fill": {"condition": {"test": "datum.series === 'XAU'", "value": "#2966a8"}, "value": "#8b4ea6"},
           "shape": {"field": "label", "type": "nominal", "sort": "descending",
             "scale": {"range": ["M 0 0 L 1 -1.15 L 9.4 -1.15 L 9.4 1.15 L 1 1.15 Z"]},
             "legend": {"orient": "none", "legendX": 1133.3, "legendY": 52, "title": null, "direction": "vertical",
               "labelAlign": "right", "labelFontSize": 18.9, "labelColor": "#1a1a1a", "labelOffset": 0,
               "symbolSize": 0, "symbolOpacity": 0, "symbolStrokeWidth": 0, "rowPadding": 2, "padding": 0}}
         }},
        {"mark": {"type": "text", "align": "left", "baseline": "middle", "dx": 38.5, "dy": 1, "fontSize": 20, "fill": "#ffffff", "font": "DejaVu Sans Condensed"},
         "encoding": {"x": {"field": "date", "type": "temporal", "axis": null}, "y": {"field": "value", "type": "quantitative", "axis": null}, "text": {"field": "label"}}}
      ]
    }
  ]
}
